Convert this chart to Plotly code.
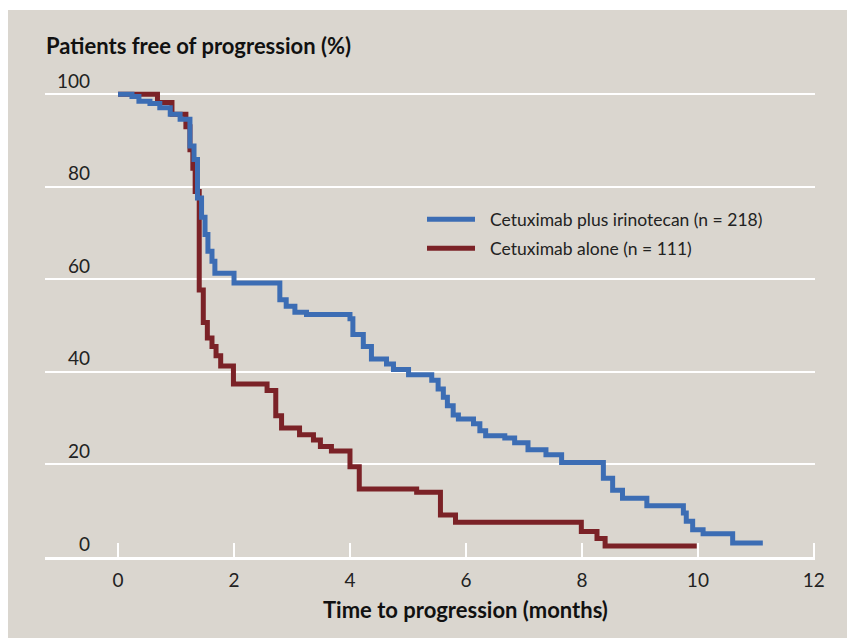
import plotly.graph_objects as go

# ---- data ----
blue_name = "Cetuximab plus irinotecan (n = 218)"
blue_t = [0, 0.24, 0.36, 0.55, 0.72, 0.90, 1.07, 1.24, 1.31, 1.37, 1.44, 1.50, 1.55, 1.62, 1.67,
          2.00, 2.79, 2.90, 3.05, 3.25, 4.00, 4.05, 4.23, 4.37, 4.63, 4.75, 5.01, 5.41, 5.52,
          5.61, 5.68, 5.78, 5.87, 6.13, 6.24, 6.34, 6.67, 6.84, 7.07, 7.38, 7.65, 8.37, 8.53,
          8.70, 9.12, 9.75, 9.80, 9.91, 10.09, 10.60, 11.12]
blue_s = [100, 99.5, 98.5, 98.0, 97.1, 95.7, 94.6, 88.8, 85.9, 77.6, 73.4, 69.7, 66.1, 63.9, 61.3,
          59.2, 55.6, 54.2, 52.9, 52.4, 51.5, 48.1, 45.5, 42.8, 41.7, 40.5, 39.4, 38.2, 36.3,
          34.5, 32.7, 30.7, 29.8, 28.8, 27.3, 26.2, 25.7, 24.7, 23.2, 22.1, 20.4, 17.0, 14.4,
          12.7, 11.1, 9.5, 7.7, 5.9, 5.0, 3.0, 3.0]

red_name = "Cetuximab alone (n = 111)"
red_t = [0, 0.68, 0.93, 1.17, 1.24, 1.29, 1.33, 1.40, 1.47, 1.54, 1.62, 1.69, 1.77, 1.99, 2.57,
         2.72, 2.82, 3.13, 3.37, 3.49, 3.68, 4.00, 4.16, 5.15, 5.56, 5.82, 7.99, 8.26, 8.40, 9.98]
red_s = [100, 98.2, 95.7, 93.0, 88.0, 84.0, 79.0, 57.7, 50.7, 47.3, 45.5, 43.5, 41.3, 37.4, 36.0,
         30.5, 27.9, 26.4, 25.3, 23.9, 22.9, 19.5, 14.7, 14.0, 9.1, 7.5, 5.5, 4.0, 2.4, 2.4]

x_ticks = [0, 2, 4, 6, 8, 10, 12]
x_tick_labels = ["0", "2", "4", "6", "8", "10", "12"]
y_ticks = [0, 20, 40, 60, 80, 100]
y_tick_labels = ["0", "20", "40", "60", "80", "100"]

y_title = "Patients free of progression (%)"
x_title = "Time to progression (months)"

# ---- style ----
BLUE = "#3c6db4"
RED = "#7b2227"
BG = "#dad6cf"
FONT = "Lato"
W, H = 847, 638
ML, MT = 45, 85
PW, PH = 770, 472
MR = W - ML - PW
MB = H - MT - PH


def px_x(p):  # pixel -> paper x
    return (p - ML) / PW


def px_y(p):  # pixel -> paper y
    return (MT + PH - p) / PH


fig = go.Figure()
fig.add_trace(go.Scatter(x=red_t, y=red_s, mode="lines", name=red_name,
                         line=dict(color=RED, width=5, shape="hv"), showlegend=False))
fig.add_trace(go.Scatter(x=blue_t, y=blue_s, mode="lines", name=blue_name,
                         line=dict(color=BLUE, width=5, shape="hv"), showlegend=False))

shapes = [dict(type="rect", xref="paper", yref="paper", x0=px_x(8), x1=px_x(W + 20),
               y0=px_y(H + 20), y1=px_y(10), fillcolor=BG, line=dict(width=0), layer="below")]
annotations = []

# manual legend
for name, color, py in [(blue_name, BLUE, 219.3), (red_name, RED, 248.3)]:
    shapes.append(dict(type="line", xref="paper", yref="paper", x0=px_x(427), x1=px_x(475),
                       y0=px_y(py), y1=px_y(py), line=dict(color=color, width=5)))
    annotations.append(dict(text=name, xref="paper", yref="paper", x=px_x(488), y=px_y(py),
                            xanchor="left", yanchor="middle", showarrow=False,
                            font=dict(family=FONT, size=17.5, color="#222222")))

# y tick labels (sit above grid lines)
for v, lab in zip(y_ticks, y_tick_labels):
    annotations.append(dict(text=lab, xref="x", yref="y", x=-0.45, y=v, xanchor="right",
                            yanchor="middle", yshift=14, showarrow=False,
                            font=dict(family=FONT, size=19, color="#222222")))

annotations.append(dict(text="<b>" + y_title + "</b>", xref="paper", yref="paper", x=px_x(44),
                        y=px_y(45), xanchor="left", yanchor="middle", showarrow=False,
                        font=dict(family=FONT, size=22, color="#111111")))
annotations.append(dict(text="<b>" + x_title + "</b>", xref="x", yref="paper", x=6,
                        y=px_y(609), xanchor="center", yanchor="middle", showarrow=False,
                        font=dict(family=FONT, size=22, color="#111111")))

fig.update_layout(
    width=W, height=H, autosize=False,
    margin=dict(l=ML, r=MR, t=MT, b=MB, pad=0),
    paper_bgcolor="white", plot_bgcolor="rgba(0,0,0,0)",
    shapes=shapes, annotations=annotations, showlegend=False,
    xaxis=dict(range=[-1.26, 12.02], tickvals=x_ticks, ticktext=x_tick_labels,
               ticks="inside", ticklen=14, tickwidth=2.5, tickcolor="white",
               showline=True, linecolor="white", linewidth=3, showgrid=False, zeroline=False,
               tickfont=dict(family=FONT, size=19, color="#222222"), ticklabelstandoff=4,
               fixedrange=True),
    yaxis=dict(range=[0, 102], tickvals=y_ticks[1:], showticklabels=False, ticks="",
               showgrid=True, gridcolor="white", gridwidth=2, zeroline=False, showline=False,
               fixedrange=True),
)

fig.write_html("out.html",
               config={"displayModeBar": False, "staticPlot": True},
               post_script="document.body.style.margin='0';"
                           "document.documentElement.style.overflow='hidden';"
                           "document.body.style.overflow='hidden';")
